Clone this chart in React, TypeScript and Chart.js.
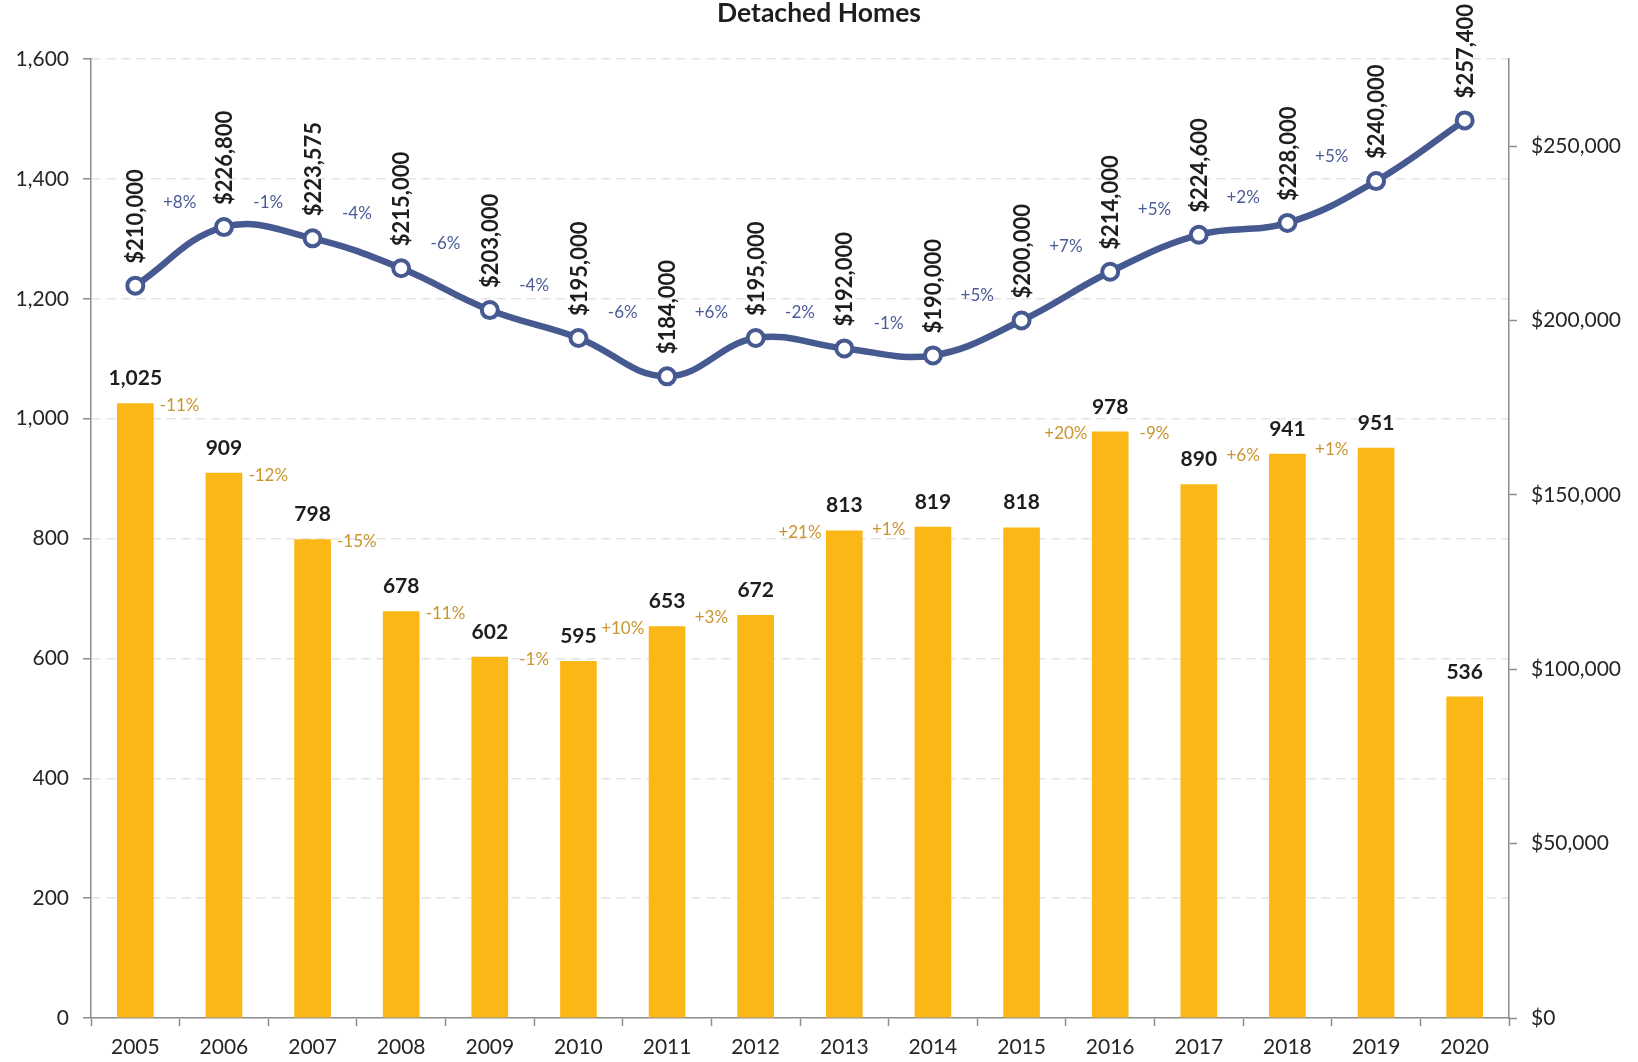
import React, { useEffect, useRef } from "react";
import { Chart, registerables } from "chart.js";

Chart.register(...registerables);

const years = ["2005", "2006", "2007", "2008", "2009", "2010", "2011", "2012", "2013", "2014", "2015", "2016", "2017", "2018", "2019", "2020"];
const sales = [1025, 909, 798, 678, 602, 595, 653, 672, 813, 819, 818, 978, 890, 941, 951, 536];
const prices = [210000, 226800, 223575, 215000, 203000, 195000, 184000, 195000, 192000, 190000, 200000, 214000, 224600, 228000, 240000, 257400];
const salesChange = ["-11%", "-12%", "-15%", "-11%", "-1%", "+10%", "+3%", "+21%", "+1%", "", "+20%", "-9%", "+6%", "+1%", ""];
const priceChange = ["+8%", "-1%", "-4%", "-6%", "-4%", "-6%", "+6%", "-2%", "-1%", "+5%", "+7%", "+5%", "+2%", "+5%", ""];
const leftTicks = [0, 200, 400, 600, 800, 1000, 1200, 1400, 1600];
const rightTicks = [0, 50000, 100000, 150000, 200000, 250000];
const title = "Detached Homes";

const W = 1638;
const H = 1062;
const FONT = "Lato, 'Open Sans', sans-serif";
const fmt = (v: number) => v.toLocaleString("en-US");

const labelPlugin = {
  id: "customLabels",
  afterDatasetsDraw(chart: any) {
    const ctx = chart.ctx as CanvasRenderingContext2D;
    const bars = chart.getDatasetMeta(0).data;
    const pts = chart.getDatasetMeta(1).data;
    const yL = chart.scales.y;
    ctx.save();
    ctx.textAlign = "center";
    ctx.textBaseline = "middle";

    // bar values
    ctx.font = `bold 21px ${FONT}`;
    ctx.fillStyle = "#1e1e1e";
    bars.forEach((b: any, i: number) => {
      ctx.fillText(fmt(sales[i]), b.x, b.y - 25);
    });

    // bar change labels
    ctx.font = `17px ${FONT}`;
    ctx.fillStyle = "#C9952F";
    for (let i = 0; i < sales.length - 1; i++) {
      if (!salesChange[i]) continue;
      const x = (bars[i].x + bars[i + 1].x) / 2;
      const y = yL.getPixelForValue(Math.max(sales[i], sales[i + 1])) + 2;
      ctx.fillText(salesChange[i], x, y);
    }

    // price change labels
    ctx.fillStyle = "#4A5B96";
    for (let i = 0; i < prices.length - 1; i++) {
      if (!priceChange[i]) continue;
      const x = (pts[i].x + pts[i + 1].x) / 2;
      const y = Math.min(pts[i].y, pts[i + 1].y) - 25;
      ctx.fillText(priceChange[i], x, y);
    }

    // price values (rotated)
    ctx.font = `bold 22px ${FONT}`;
    ctx.fillStyle = "#1e1e1e";
    ctx.textAlign = "left";
    pts.forEach((p: any, i: number) => {
      ctx.save();
      ctx.translate(p.x + 1, p.y - 22);
      ctx.rotate(-Math.PI / 2);
      ctx.fillText("$" + fmt(prices[i]), 0, 0);
      ctx.restore();
    });

    // title
    ctx.textAlign = "center";
    ctx.font = `bold 26.5px ${FONT}`;
    ctx.fillStyle = "#1e1e1e";
    ctx.fillText(title, W / 2, 13);
    ctx.restore();
  },
};

export default function App() {
  const ref = useRef<HTMLCanvasElement | null>(null);

  useEffect(() => {
    document.body.style.margin = "0";
    if (!ref.current) return;
    Chart.defaults.font.family = FONT;
    const axisColor = "#8C8C8C";
    const chart = new Chart(ref.current, {
      type: "bar",
      data: {
        labels: years,
        datasets: [
          {
            type: "bar",
            label: "Sales",
            data: sales,
            backgroundColor: "#FBB716",
            yAxisID: "y",
            barThickness: 36,
            order: 2,
          },
          {
            type: "line",
            label: "Median Price",
            data: prices,
            borderColor: "#465A91",
            borderWidth: 6.5,
            tension: 0.4,
            pointRadius: 8,
            pointBorderWidth: 4,
            pointBackgroundColor: "#FFFFFF",
            pointBorderColor: "#465A91",
            yAxisID: "y1",
            order: 1,
          } as any,
        ],
      },
      options: {
        responsive: false,
        animation: false,
        devicePixelRatio: 1,
        layout: { padding: { top: 59, left: 0, right: 0, bottom: 0 } },
        plugins: {
          legend: { display: false },
          tooltip: { enabled: false },
          title: { display: false },
        },
        scales: {
          x: {
            offset: true,
            grid: {
              offset: true,
              drawOnChartArea: false,
              tickLength: 8,
              tickColor: axisColor,
              tickWidth: 1.5,
            },
            border: { color: axisColor, width: 1.5 },
            ticks: { color: "#262626", font: { size: 21, family: FONT }, padding: 9, maxRotation: 0 },
            afterFit: (s: any) => {
              s.height = H - 1018;
            },
          },
          y: {
            position: "left",
            min: 0,
            max: 1600,
            afterBuildTicks: (s: any) => {
              s.ticks = leftTicks.map((v) => ({ value: v }));
            },
            grid: {
              color: (c: any) => (c.tick && c.tick.value === 0 ? "rgba(0,0,0,0)" : "#E4E4E4"),
              lineWidth: 1.5,
              tickLength: 8,
              tickColor: axisColor,
              tickWidth: 1.5,
            },
            border: { color: axisColor, width: 1.5, dash: [9, 6] },
            ticks: {
              color: "#262626",
              font: { size: 21, family: FONT },
              padding: 14,
              callback: (v: any) => fmt(Number(v)),
            },
            afterFit: (s: any) => {
              s.width = 91;
            },
          },
          y1: {
            position: "right",
            min: 0,
            max: 275000,
            afterBuildTicks: (s: any) => {
              s.ticks = rightTicks.map((v) => ({ value: v }));
            },
            grid: {
              drawOnChartArea: false,
              tickLength: 8,
              tickColor: axisColor,
              tickWidth: 1.5,
            },
            border: { color: axisColor, width: 1.5 },
            ticks: {
              color: "#262626",
              font: { size: 21, family: FONT },
              padding: 14,
              callback: (v: any) => "$" + fmt(Number(v)),
            },
            afterFit: (s: any) => {
              s.width = W - 1509;
            },
          },
        },
      },
      plugins: [labelPlugin],
    });
    return () => chart.destroy();
  }, []);

  return (
    <div style={{ width: W, height: H, background: "#FFFFFF" }}>
      <canvas ref={ref} width={W} height={H} style={{ display: "block", width: W, height: H }} />
    </div>
  );
}
